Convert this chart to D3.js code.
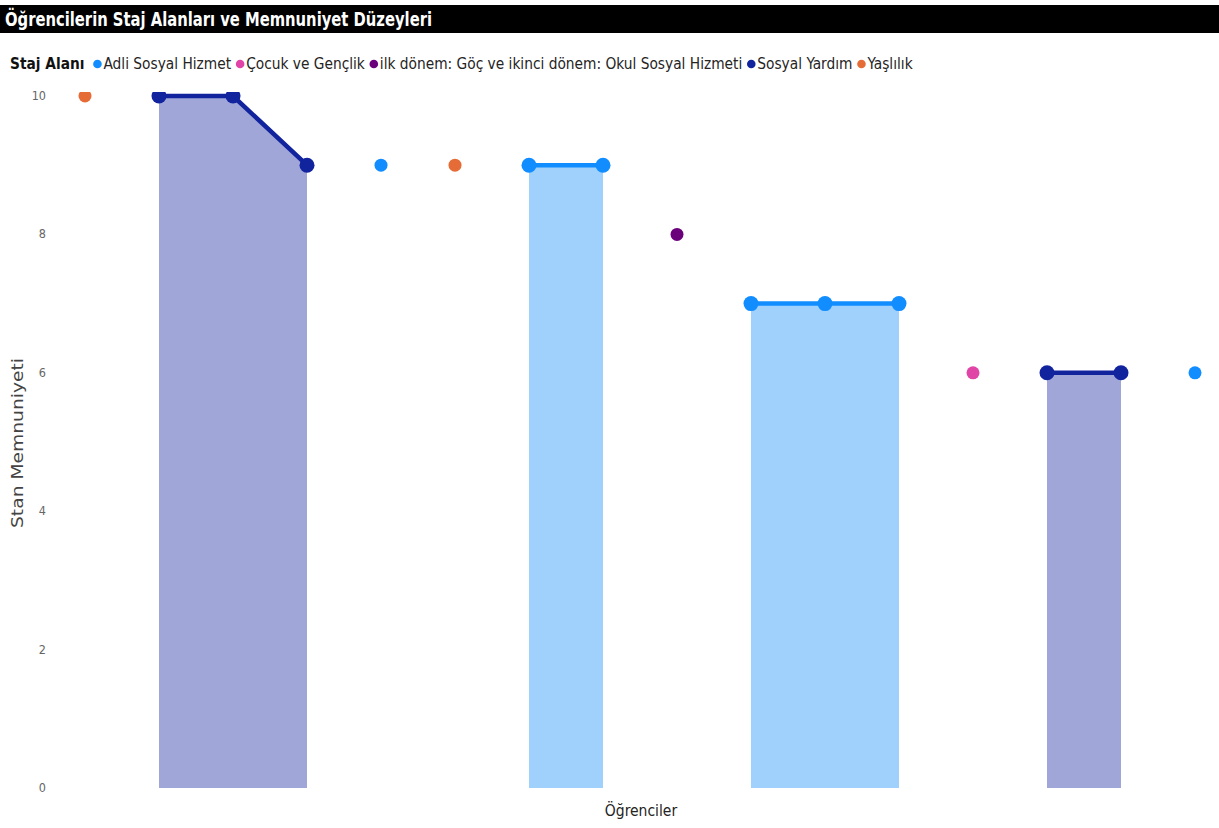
<!DOCTYPE html>
<html><head><meta charset="utf-8">
<script src="https://cdn.jsdelivr.net/npm/d3@7"></script>
<style>body{margin:0;background:#fff;}svg{display:block;}</style>
</head><body>
<svg id="c" width="1219" height="828"></svg>
<script>
const students = ["1","2","3","4","5","6","7","8","9","10","11","12","13","14","15","16"];
const satisfaction = [10,10,10,9,9,9,9,9,8,7,7,7,6,6,6,6];
const field = ["Yaşlılık","Sosyal Yardım","Sosyal Yardım","Sosyal Yardım","Adli Sosyal Hizmet","Yaşlılık","Adli Sosyal Hizmet","Adli Sosyal Hizmet","ilk dönem: Göç ve ikinci dönem: Okul Sosyal Hizmeti","Adli Sosyal Hizmet","Adli Sosyal Hizmet","Adli Sosyal Hizmet","Çocuk ve Gençlik","Sosyal Yardım","Sosyal Yardım","Adli Sosyal Hizmet"];
const categories = ["Adli Sosyal Hizmet","Çocuk ve Gençlik","ilk dönem: Göç ve ikinci dönem: Okul Sosyal Hizmeti","Sosyal Yardım","Yaşlılık"];
const colors = ["#118DFF","#E044A7","#6B007B","#12239E","#E66C37"];
const fills = ["#9FD1FC","#F0A6D4","#B580BE","#A0A7D8","#F3B69B"];
const yTicks = [0,2,4,6,8,10];

const svg = d3.select("#c");
const font = "'DejaVu Sans Condensed','DejaVu Sans',sans-serif";

// title bar
svg.append("rect").attr("x",0).attr("y",5).attr("width",1219).attr("height",28).attr("fill","#000");
svg.append("text").attr("x",5).attr("y",26).attr("fill","#fff").attr("font-family",font)
  .attr("font-weight","bold").attr("font-size",20).attr("textLength",427).attr("lengthAdjust","spacingAndGlyphs")
  .text("Öğrencilerin Staj Alanları ve Memnuniyet Düzeyleri");

// legend
const lg = svg.append("g").attr("font-family",font).attr("font-size",15.3).attr("fill","#252423");
let lx = 10; const ly = 69;
const lt = lg.append("text").attr("x",lx).attr("y",ly).attr("font-weight","bold").attr("fill","#111").text("Staj Alanı");
lx += lt.node().getComputedTextLength() + 9;
categories.forEach((c,i)=>{
  lg.append("circle").attr("cx",lx+4).attr("cy",ly-5).attr("r",4.3).attr("fill",colors[i]);
  const t = lg.append("text").attr("x",lx+10).attr("y",ly).text(c);
  lx += 10 + t.node().getComputedTextLength() + 5;
});

// scales
const x = d3.scalePoint().domain(students).range([85,1195]);
const y = d3.scaleLinear().domain([0,10]).range([788,96]);

// y axis
const ya = svg.append("g").attr("font-family",font).attr("font-size",12.5).attr("fill","#666");
yTicks.forEach(t=>{
  ya.append("text").attr("x",46).attr("y",y(t)+4).attr("text-anchor","end").text(t);
});
svg.append("text").attr("transform","translate(23,443) rotate(-90)").attr("text-anchor","middle")
  .attr("font-family","'DejaVu Sans',sans-serif").attr("font-size",15).attr("fill","#444")
  .attr("textLength",170).attr("lengthAdjust","spacingAndGlyphs").text("Stan Memnuniyeti");
svg.append("text").attr("x",641).attr("y",816).attr("text-anchor","middle").attr("font-family",font)
  .attr("font-size",15.5).attr("fill","#252423").text("Öğrenciler");

svg.append("clipPath").attr("id","clip").append("rect").attr("x",60).attr("y",92).attr("width",1159).attr("height",710);
const plot = svg.append("g").attr("clip-path","url(#clip)");

categories.forEach((c,ci)=>{
  const pts = students.map((s,i)=>({s, v: field[i]===c ? satisfaction[i] : null}));
  const area = d3.area().defined(d=>d.v!==null).x(d=>x(d.s)).y0(y(0)).y1(d=>y(d.v));
  const line = d3.line().defined(d=>d.v!==null).x(d=>x(d.s)).y(d=>y(d.v));
  plot.append("path").datum(pts).attr("d",area).attr("fill",fills[ci]);
  plot.append("path").datum(pts).attr("d",line).attr("fill","none").attr("stroke",colors[ci]).attr("stroke-width",4.5);
  pts.forEach((d,i)=>{
    if(d.v===null) return;
    const single = (i===0||pts[i-1].v===null) && (i===pts.length-1||pts[i+1].v===null);
    plot.append("circle").attr("cx",x(d.s)).attr("cy",y(d.v)).attr("r", single?6.5:7.5).attr("fill",colors[ci]);
  });
});
</script>
</body></html>
